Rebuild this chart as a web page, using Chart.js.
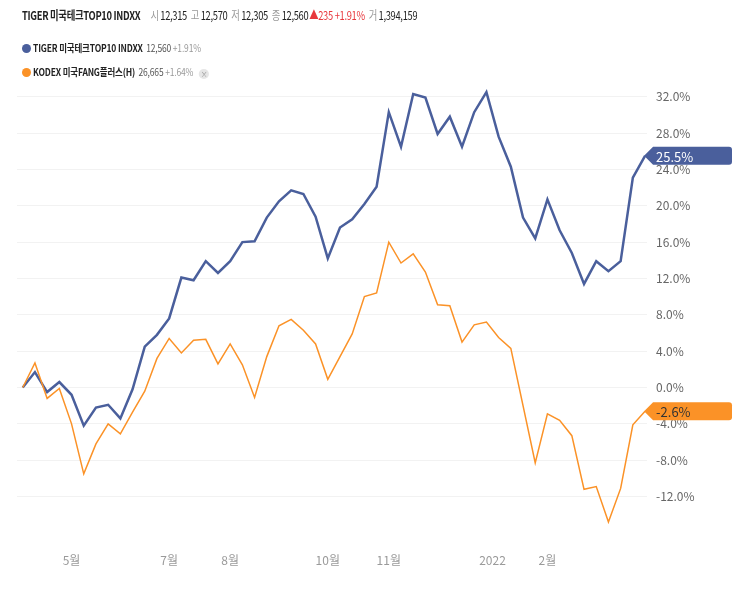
<!DOCTYPE html>
<html>
<head>
<meta charset="utf-8">
<script src="https://cdn.jsdelivr.net/npm/chart.js@4.4.1/dist/chart.umd.min.js"></script>
<style>
  body { margin: 0; background: #fff; font-family: "Noto Sans CJK KR", "Noto Sans", sans-serif; }
  #wrap { position: relative; width: 743px; height: 598px; overflow: hidden; }
  #chart { position: absolute; left: 0; top: 0; }
  .hdr { position: absolute; left: 22px; top: 6px; font-size: 12px; color: #222; white-space: nowrap; letter-spacing: -0.4px; transform: scaleX(0.78); transform-origin: 0 50%; }
  .hdr b { font-weight: 700; margin-right: 8px; }
  .hdr .k { color: #999; margin: 0 2px 0 5px; }
  .hdr .up { color: #e8383d; margin-left: 1px; }
  .leg { position: absolute; left: 22px; font-size: 10px; line-height: 14px; color: #222; white-space: nowrap; }
  .leg .dot { position: absolute; left: 0; top: 2.5px; width: 9px; height: 9px; border-radius: 50%; }
  .leg .t { position: absolute; left: 11px; top: 0; letter-spacing: -0.2px; transform: scaleX(0.85); transform-origin: 0 50%; }
  .leg b { font-weight: 700; }
  .leg .v { color: #555; margin-left: 4px; }
  .leg .p { color: #999; margin-left: 2px; }
  .leg .x { display: inline-block; width: 12px; height: 10px; border-radius: 50%; background: #e6e6e6; color: #9a9a9a; font-size: 8px; line-height: 10px; text-align: center; margin-left: 7px; vertical-align: -1px; letter-spacing: 0; }
</style>
</head>
<body>
<div id="wrap">
  <canvas id="chart" width="743" height="598"></canvas>
  <div class="hdr"><b>TIGER 미국테크TOP10 INDXX</b><span class="k">시</span>12,315<span class="k">고</span>12,570<span class="k">저</span>12,305<span class="k">종</span>12,560<span class="up">▲235 +1.91%</span><span class="k">거</span>1,394,159</div>
  <div class="leg" style="top:41px"><span class="dot" style="background:#4a5f9c"></span><span class="t"><b>TIGER 미국테크TOP10 INDXX</b><span class="v">12,560</span><span class="p">+1.91%</span></span></div>
  <div class="leg" style="top:65px"><span class="dot" style="background:#fb9227"></span><span class="t"><b>KODEX 미국FANG플러스(H)</b><span class="v">26,665</span><span class="p">+1.64%</span><span class="x">×</span></span></div>
</div>
<script>
// weekly returns (%)
const tigerReturns = [
  0.0, 1.7, -0.5, 0.6, -0.8, -4.2, -2.2, -1.9, -3.4, -0.2,
  4.5, 5.8, 7.6, 12.1, 11.8, 13.9, 12.6, 13.9, 16.0, 16.1,
  18.7, 20.5, 21.7, 21.3, 18.8, 14.2, 17.6, 18.5, 20.2, 22.1,
  30.3, 26.5, 32.3, 31.9, 27.9, 29.8, 26.5, 30.3, 32.5, 27.6,
  24.3, 18.7, 16.4, 20.7, 17.3, 14.8, 11.4, 13.9, 12.8, 13.9,
  23.1, 25.5
];
const kodexReturns = [
  0.0, 2.7, -1.2, -0.1, -4.0, -9.5, -6.2, -4.0, -5.1, -2.7,
  -0.4, 3.2, 5.4, 3.8, 5.2, 5.3, 2.6, 4.8, 2.5, -1.1,
  3.4, 6.8, 7.5, 6.3, 4.8, 0.9, 3.4, 5.9, 10.0, 10.4,
  16.0, 13.7, 14.7, 12.7, 9.1, 9.0, 5.0, 6.9, 7.2, 5.5,
  4.3, -2.0, -8.3, -2.9, -3.6, -5.3, -11.2, -10.9, -14.8, -11.1,
  -4.1, -2.6
];
const monthLabels = ['5월', '7월', '8월', '10월', '11월', '2022', '2월'];
const monthTickPos = [4, 12, 17, 25, 30, 38.5, 43];
const yTicks = [-12, -8, -4, 0, 4, 8, 12, 16, 20, 24, 28, 32];

const BLUE = '#4a5f9c';
const ORANGE = '#fb9227';

const lastValueTag = {
  id: 'lastValueTag',
  afterDraw(chart) {
    const ctx = chart.ctx;
    chart.data.datasets.forEach((ds, di) => {
      const meta = chart.getDatasetMeta(di);
      const pt = meta.data[meta.data.length - 1];
      const x = pt.x, y = pt.y;
      const left = x + 8, right = 732, h = 18;
      ctx.save();
      ctx.fillStyle = ds.borderColor;
      ctx.beginPath();
      ctx.moveTo(x - 1, y);
      ctx.lineTo(left, y - h / 2);
      ctx.lineTo(right - 3, y - h / 2);
      ctx.quadraticCurveTo(right, y - h / 2, right, y - h / 2 + 3);
      ctx.lineTo(right, y + h / 2 - 3);
      ctx.quadraticCurveTo(right, y + h / 2, right - 3, y + h / 2);
      ctx.lineTo(left, y + h / 2);
      ctx.closePath();
      ctx.fill();
      ctx.fillStyle = ds.tagText;
      ctx.font = '13px "Noto Sans CJK KR", sans-serif';
      ctx.textBaseline = 'middle';
      ctx.fillText(ds.data[ds.data.length - 1].y.toFixed(1) + '%', left + 3, y + 1);
      ctx.restore();
    });
  }
};

new Chart(document.getElementById('chart'), {
  type: 'line',
  data: {
    datasets: [
      {
        label: 'TIGER 미국테크TOP10 INDXX',
        data: tigerReturns.map((v, i) => ({ x: i, y: v })),
        borderColor: BLUE,
        borderWidth: 2.5,
        tagText: '#ffffff',
        order: 1
      },
      {
        label: 'KODEX 미국FANG플러스(H)',
        data: kodexReturns.map((v, i) => ({ x: i, y: v })),
        borderColor: ORANGE,
        borderWidth: 1.5,
        tagText: '#333333',
        order: 0
      }
    ]
  },
  options: {
    responsive: false,
    animation: false,
    elements: { point: { radius: 0 }, line: { tension: 0 } },
    layout: { padding: { left: 17, top: 74, right: 0, bottom: 0 } },
    plugins: { legend: { display: false }, tooltip: { enabled: false } },
    scales: {
      x: {
        type: 'linear',
        min: -0.47,
        max: 51.16,
        grid: { display: false },
        border: { display: false },
        afterBuildTicks: s => { s.ticks = monthTickPos.map(v => ({ value: v })); },
        afterFit: s => { s.height = 56; },
        ticks: {
          autoSkip: false,
          maxRotation: 0,
          padding: 3,
          color: '#9a9a9a',
          font: { family: '"Noto Sans CJK KR", sans-serif', size: 12 },
          callback: (v, i) => monthLabels[i]
        }
      },
      y: {
        position: 'right',
        min: -17,
        max: 34.5,
        grid: { color: '#f2f2f2', drawTicks: false },
        border: { display: false },
        afterBuildTicks: s => { s.ticks = yTicks.map(v => ({ value: v })); },
        afterFit: s => { s.width = 96; },
        ticks: {
          padding: 9,
          color: '#666',
          font: { family: '"Noto Sans CJK KR", sans-serif', size: 12 },
          callback: v => v.toFixed(1) + '%'
        }
      }
    }
  },
  plugins: [lastValueTag]
});
</script>
</body>
</html>
